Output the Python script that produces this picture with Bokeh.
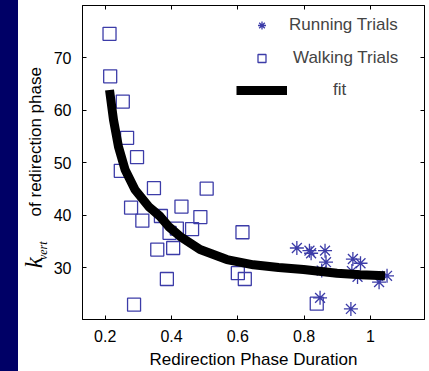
import math
from bokeh.plotting import figure
from bokeh.layouts import row
from bokeh.models import (Range1d, FixedTicker, LinearAxis, Label, Legend, LegendItem,
                          CustomJSTickFormatter, Div)
from bokeh.embed import file_html
from bokeh.resources import INLINE

# ---- data ----
walk_x = [0.213, 0.215, 0.253, 0.266, 0.296, 0.247, 0.347, 0.506, 0.430, 0.278, 0.312, 0.368,
          0.487, 0.394, 0.416, 0.462, 0.614, 0.357, 0.405, 0.386, 0.287, 0.600, 0.621, 0.838]
walk_y = [74.6, 66.5, 61.7, 54.8, 51.1, 48.5, 45.2, 45.1, 41.7, 41.5, 39.0, 39.9,
          39.7, 36.7, 37.5, 37.4, 36.8, 33.5, 33.8, 27.9, 23.0, 29.0, 27.9, 23.2]

run_x = [0.778, 0.816, 0.821, 0.863, 0.866, 0.853, 0.848, 0.947, 0.970, 0.944, 0.961, 1.026, 1.050, 0.941]
run_y = [33.8, 33.3, 32.8, 33.3, 31.1, 29.5, 24.3, 31.7, 30.9, 29.4, 28.3, 27.3, 28.5, 22.2]

fit_x = [0.213, 0.225, 0.24, 0.26, 0.29, 0.331, 0.366, 0.391, 0.426, 0.486, 0.567, 0.647,
         0.723, 0.798, 0.899, 0.97, 1.044]
fit_y = [63.9, 58.2, 53.1, 48.7, 44.9, 41.7, 39.8, 37.9, 36.0, 33.5, 31.6, 30.6,
         30.1, 29.7, 29.0, 28.7, 28.5]

x_ticks = [0.2, 0.4, 0.6, 0.8, 1.0]
y_ticks = [30, 40, 50, 60, 70]

x_title = "Redirection Phase Duration"
y_title = "of redirection phase"
y_sym, y_sub = "k", "vert"
legend_labels = ["Running Trials", "Walking Trials", "fit"]

FONT = "Liberation Sans"
MARK = "#3c3ca8"
NAVY = "#000066"
H = 371
SW = 18   # navy strip width
TW = 32   # y-title panel width
TOP, BOT = 5, 51  # borders of the main plot frame

# ---------- navy strip ----------
strip = Div(text="", width=SW, height=H,
            styles={"background-color": NAVY, "margin": "0", "padding": "0"})

# ---------- y-axis title panel (frame aligned with main plot frame) ----------
side = figure(width=TW, height=H, output_backend="svg", toolbar_location=None,
              x_axis_location=None, y_axis_location=None,
              x_range=Range1d(SW, SW + TW), y_range=Range1d(BOT, H - TOP),
              min_border_left=0, min_border_right=0,
              min_border_top=TOP, min_border_bottom=BOT)
side.grid.visible = False
side.outline_line_color = None
side.background_fill_color = "white"
side.border_fill_color = "white"
side.add_layout(Label(x=34.5, y=H - 141.7, text=y_title, angle=math.pi / 2,
                      text_align="center", text_baseline="middle",
                      text_font=FONT, text_font_size="17px", text_color="black"))
side.add_layout(Label(x=33, y=H - 263, text=y_sym, angle=math.pi / 2,
                      text_align="center", text_baseline="middle",
                      text_font="Liberation Serif", text_font_style="italic",
                      text_font_size="25px", text_color="black"))
side.add_layout(Label(x=42.5, y=H - 251, text=y_sub, angle=math.pi / 2,
                      text_align="center", text_baseline="middle",
                      text_font="Liberation Serif", text_font_style="italic",
                      text_font_size="12px", text_color="black"))

# ---------- main plot ----------
p = figure(width=429 - SW - TW, height=H, output_backend="svg", toolbar_location=None,
           x_range=Range1d(0.1315, 1.163), y_range=Range1d(20.18, 80.0),
           min_border_left=32, min_border_right=5, min_border_top=TOP, min_border_bottom=BOT)
p.grid.visible = False
p.outline_line_color = "black"
p.background_fill_color = "white"
p.border_fill_color = "white"

fmt = CustomJSTickFormatter(code="return String(Math.round(tick*10)/10)")
blank = CustomJSTickFormatter(code="return ''")

for ax in p.xaxis:
    ax.ticker = FixedTicker(ticks=x_ticks)
    ax.formatter = fmt
    ax.axis_label = x_title
for ax in p.yaxis:
    ax.ticker = FixedTicker(ticks=y_ticks)

for ax in p.axis:
    ax.major_tick_in = 4
    ax.major_tick_out = 0
    ax.minor_tick_line_color = None
    ax.axis_line_color = "black"
    ax.major_tick_line_color = "black"
    ax.major_label_text_font = FONT
    ax.major_label_text_font_size = "16px"
    ax.major_label_text_color = "black"
    ax.axis_label_text_font = FONT
    ax.axis_label_text_font_size = "17px"
    ax.axis_label_text_font_style = "normal"
    ax.axis_label_text_color = "black"
p.xaxis.major_label_standoff = 10
p.xaxis.axis_label_standoff = 5
p.yaxis.major_label_standoff = 11

top_ax = LinearAxis(ticker=FixedTicker(ticks=x_ticks), formatter=blank,
                    major_tick_in=4, major_tick_out=0, minor_tick_line_color=None,
                    major_label_standoff=0)
right_ax = LinearAxis(ticker=FixedTicker(ticks=y_ticks), formatter=blank,
                      major_tick_in=4, major_tick_out=0, minor_tick_line_color=None,
                      major_label_standoff=0)
p.add_layout(top_ax, "above")
p.add_layout(right_ax, "right")

r_walk = p.scatter(walk_x, walk_y, marker="square", size=13, fill_color=None,
                   line_color=MARK, line_width=1.3)
r_run = p.scatter(run_x, run_y, marker="asterisk", size=14, line_color=MARK, line_width=1.3)
r_fit = p.line(fit_x, fit_y, line_color="black", line_width=9, line_cap="butt")


def mk_legend(label, rend, x, y, standoff):
    lg = Legend(items=[LegendItem(label=label, renderers=[rend])], location=(x, y),
                glyph_width=51, glyph_height=20, label_standoff=standoff, padding=0, margin=0,
                border_line_color=None, background_fill_alpha=0,
                label_text_font=FONT, label_text_font_size="17px", label_height=20, spacing=0)
    p.add_layout(lg, "center")


mk_legend(legend_labels[0], r_run, 154, 284, 2)
mk_legend(legend_labels[1], r_walk, 154, 251, 6)
mk_legend(legend_labels[2], r_fit, 154, 219, 46)

layout = row(strip, side, p, spacing=0)
open("out.html", "w").write(file_html(layout, INLINE))
